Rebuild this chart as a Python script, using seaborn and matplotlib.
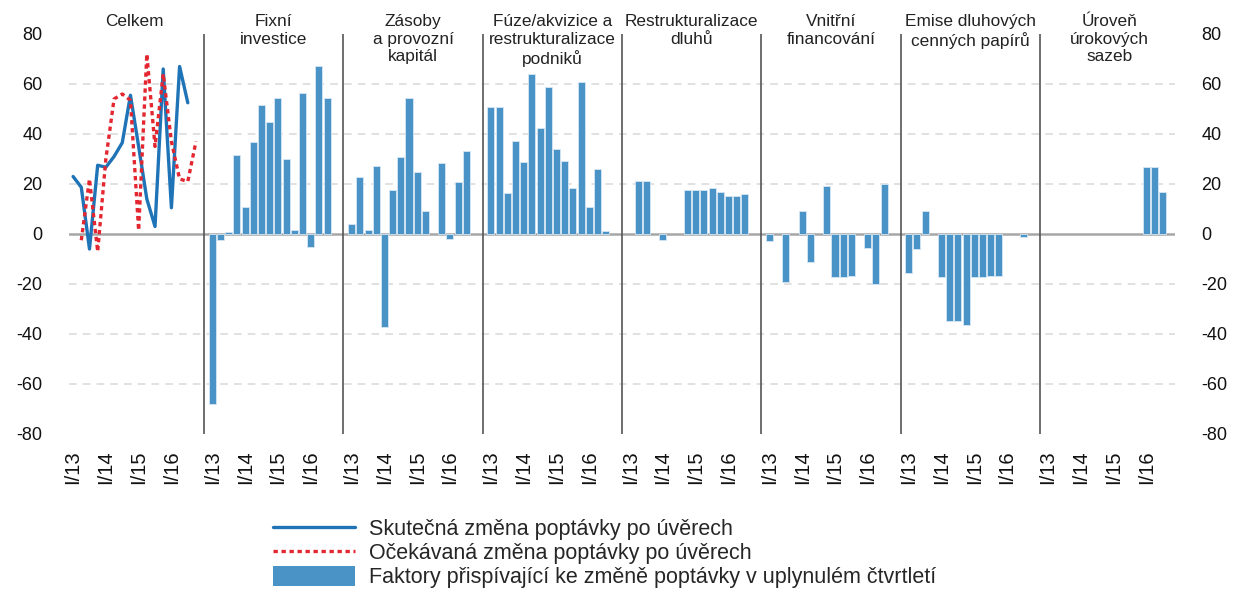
import numpy as np
import pandas as pd
import matplotlib.pyplot as plt
import seaborn as sns
from matplotlib.lines import Line2D
from matplotlib.patches import Patch

quarters = [f"{q}/{y}" for y in ("13", "14", "15", "16") for q in ("I", "II", "III", "IV")]

panel_titles = [
    "Celkem",
    "Fixní\ninvestice",
    "Zásoby\na provozní\nkapitál",
    "Fúze/akvizice a\nrestrukturalizace\npodniků",
    "Restrukturalizace\ndluhů",
    "Vnitřní\nfinancování",
    "Emise dluhových\ncenných papírů",
    "Úroveň\núrokových\nsazeb",
]

# Celkem: actual change I/13..III/16, expected change II/13..IV/16
actual_change = [23, 18.7, -6, 27.5, 26.7, 31, 36.5, 55.5, 35, 14, 3, 66, 10.5, 67, 52.5]
expected_change = [-2.5, 22, -7, 30, 54, 56, 53.5, 1.5, 72, 35, 64, 37, 22, 21, 37]

# factors, quarters I/13..III/16
fixed_investment = [-68, -2.4, 1, 31.5, 11, 37, 51.5, 44.8, 54.3, 30, 1.6, 56.3, -5, 67.2, 54.3]
inventories = [4, 22.7, 1.6, 27.2, -37, 17.7, 30.7, 54.3, 25, 9.3, 0, 28.4, -2, 20.7, 33.3]
mergers = [50.7, 51, 16.3, 37.3, 28.7, 64, 42.3, 58.7, 33.9, 29.3, 18.4, 60.7, 11, 25.9, 1.2]
debt_restructuring = [0, 21.3, 21.3, 0, -2.4, 0, 0, 17.6, 17.6, 17.6, 18.3, 17, 15.2, 15.2, 16.1]
internal_financing = [-2.7, 0, -19.2, 0, 9.3, -11.2, 0, 19.2, -17.3, -17.3, -16.9, 0, -5.7, -20, 20]
debt_securities = [-15.5, -5.9, 9.2, 0, -17.3, -34.7, -34.7, -36.3, -17.3, -17.3, -16.9, -16.9, 0, 0, -1.1]
interest_rates = [0, 0, 0, 0, 0, 0, 0, 0, 0, 0, 0, 0, 26.9, 26.9, 16.9]

factor_series = [
    fixed_investment,
    inventories,
    mergers,
    debt_restructuring,
    internal_financing,
    debt_securities,
    interest_rates,
]

yticks = [-80, -60, -40, -20, 0, 20, 40, 60, 80]

BAR_COLOR = "#4a93c6"
LINE_COLOR = "#1f73b7"
RED = "#e3262f"
DOTTED = (0, (1.3, 1.1))

slots = len(quarters) + 1  # 16 quarters + gap per panel

sns.set_theme(style="white")
plt.rcParams["font.family"] = ["Liberation Sans", "DejaVu Sans"]

fig = plt.figure(figsize=(12.37, 5.93), dpi=100)
ax = fig.add_axes([69 / 1237, 1 - 434 / 593, 1106 / 1237, 400 / 593])

# bars for panels 2..8 (zero answers draw nothing)
rows = []
for k, vals in enumerate(factor_series, start=1):
    for i, v in enumerate(vals):
        rows.append({"pos": k * slots + i, "value": v})
df_bars = pd.DataFrame(rows)
df_bars = df_bars[df_bars["value"] != 0]
sns.barplot(
    data=df_bars,
    x="pos",
    y="value",
    native_scale=True,
    width=0.86,
    color=BAR_COLOR,
    saturation=1,
    edgecolor="#d6e7f4",
    linewidth=0.6,
    ax=ax,
    zorder=3,
)

# lines for the first panel
df_actual = pd.DataFrame({"pos": np.arange(len(actual_change)), "value": actual_change})
df_expected = pd.DataFrame({"pos": np.arange(1, len(expected_change) + 1), "value": expected_change})
sns.lineplot(data=df_actual, x="pos", y="value", color=LINE_COLOR, lw=2.4, ax=ax, zorder=4)
sns.lineplot(
    data=df_expected,
    x="pos",
    y="value",
    color=RED,
    lw=2.4,
    linestyle=DOTTED,
    ax=ax,
    zorder=4,
)

ax.set_xlim(-0.5, 134.5)
ax.set_ylim(-80, 80)
ax.set_yticks(yticks)
ax.set_yticklabels([str(t) for t in yticks])

xt, xl = [], []
for k in range(len(panel_titles)):
    for i, q in enumerate(quarters):
        if q.startswith("I/"):
            xt.append(k * slots + i)
            xl.append(q)
ax.set_xticks(xt)
ax.set_xticklabels(xl, rotation=90, fontsize=14.5, va="top")
ax.tick_params(axis="x", length=0, pad=12, colors="#111111")
ax.tick_params(axis="y", length=0, pad=19, labelsize=13, labelright=True, colors="#111111")
ax.set_xlabel("")
ax.set_ylabel("")

ax.grid(axis="y", color="#d9d9d9", linestyle=(0, (5, 4)), lw=1.1)
for line, t in zip(ax.get_ygridlines(), yticks):
    if abs(t) == 80 or t == 0:
        line.set_visible(False)
ax.axhline(0, color="#a6a6a6", lw=1.8, zorder=2)
for s in ax.spines.values():
    s.set_visible(False)

for k in range(1, len(panel_titles)):
    ax.axvline(k * slots - 1, color="#555555", lw=1.2, zorder=5)

for k, title in enumerate(panel_titles):
    ax.text(
        k * slots + 7.5,
        88,
        title,
        ha="center",
        va="top",
        fontsize=12.4,
        linespacing=1.22,
        color="#222222",
        clip_on=False,
    )

handles = [
    Line2D([], [], color=LINE_COLOR, lw=2.4),
    Line2D([], [], color=RED, lw=2.4, linestyle=DOTTED),
    Patch(facecolor=BAR_COLOR, edgecolor="none"),
]
labels = [
    "Skutečná změna poptávky po úvěrech",
    "Očekávaná změna poptávky po úvěrech",
    "Faktory přispívající ke změně poptávky v uplynulém čtvrtletí",
]
fig.legend(
    handles,
    labels,
    loc="upper left",
    bbox_to_anchor=(273 / 1237, 1 - 518 / 593),
    frameon=False,
    fontsize=15.5,
    handlelength=3.8,
    handleheight=1.0,
    handletextpad=0.65,
    labelspacing=0.1,
    borderpad=0,
    borderaxespad=0,
)

fig.savefig("out.png", dpi=100)
